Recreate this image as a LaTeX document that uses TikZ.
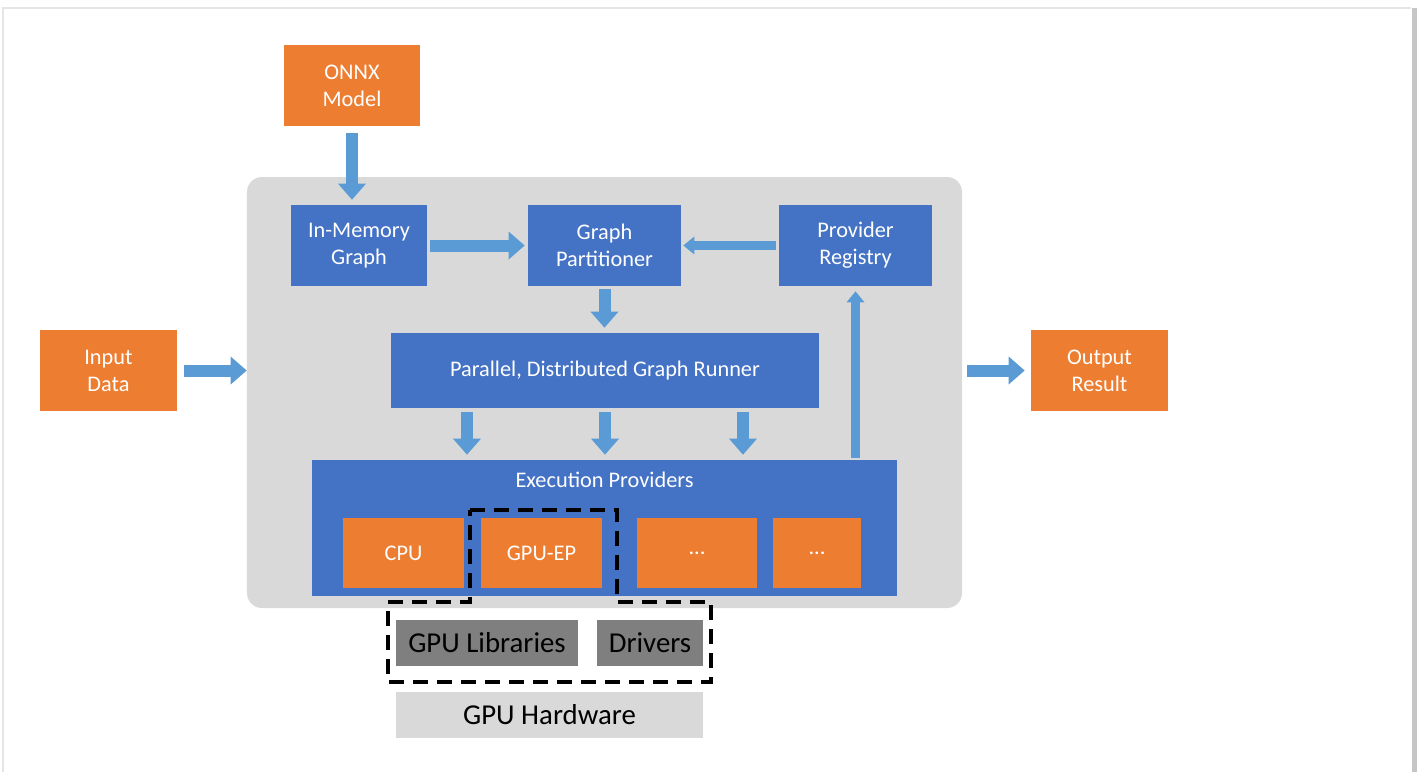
\documentclass[tikz,border=0pt]{standalone}
\usepackage{fontspec}
\setmainfont{Carlito}
\usepackage{tikz}
\usetikzlibrary{positioning}
\usetikzlibrary{calc}
\usetikzlibrary{arrows.meta}
\definecolor{ortorange}{HTML}{ED7D31}
\definecolor{ortblue}{HTML}{4472C4}
\definecolor{ortarrow}{HTML}{5B9BD5}
\definecolor{ortgray}{HTML}{D9D9D9}
\definecolor{ortdark}{HTML}{7F7F7F}
\tikzset{ortbox/.style={inner sep=0pt,align=center,text=white,font=\fontsize{12.7}{15.3}\selectfont},
orangebox/.style={ortbox,fill=ortorange},
bluebox/.style={ortbox,fill=ortblue},
graybox/.style={ortbox,text=black,font=\fontsize{16.4}{19}\selectfont,minimum height=9.2mm},
bigarrow/.style={ortarrow,line width=2.4mm,-{Triangle[length=3.2mm,width=5.6mm,line width=0pt]}},
thinarrow/.style={ortarrow,line width=1.7mm,-{Triangle[length=2.2mm,width=3.6mm,line width=0pt]}}}

\begin{document}
\begin{tikzpicture}[x=0.2mm,y=-0.2mm]
\useasboundingbox (0,0) rectangle (1419,771);
\draw[gray!20,line width=0.3mm] (3,775) -- (3,8) -- (1411,8);
\draw[gray!45,line width=1mm] (1414,8) -- (1414,775);
\node[fill=ortgray,rounded corners=3mm,minimum width=143mm,minimum height=86.2mm] (runtime) at (604.5,392.5) {};
\node[orangebox,minimum width=27.2mm,minimum height=16.2mm] (onnx) at (352,85.5) {ONNX\\Model};
\node[bluebox,minimum width=27.2mm,minimum height=16.2mm] (mem) at (359,245.5) {In-Memory\\Graph};
\node[bluebox,minimum width=30.6mm,minimum height=16.2mm] (part) at (604.5,245.5) {Graph\\Partitioner};
\node[bluebox,minimum width=30.6mm,minimum height=16.2mm] (reg) at (855.5,245.5) {Provider\\Registry};
\node[bluebox,minimum width=85.6mm,minimum height=15mm] (runner) at (605,370.5) {Parallel, Distributed Graph Runner};
\node[bluebox,minimum width=117mm,minimum height=27.2mm,label={[ortbox,anchor=center,yshift=-4mm]north:Execution Providers}] (ep) at (604.5,528) {};
\node[orangebox,minimum width=24.2mm,minimum height=14mm] (cpu) at (403.5,553) {CPU};
\node[orangebox,minimum width=24.2mm,minimum height=14mm] (gpuep) at (541.5,553) {GPU-EP};
\node[orangebox,minimum width=24mm,minimum height=14mm] (more) at (697,553) {...};
\node[orangebox,minimum width=17.6mm,minimum height=14mm] (other) at (817,553) {...};
\node[orangebox,minimum width=27.4mm,minimum height=16.2mm] (input) at (108.5,370.5) {Input\\Data};
\node[orangebox,minimum width=27.4mm,minimum height=16.2mm] (output) at (1099.5,370.5) {Output\\Result};
\node[graybox,fill=ortdark,minimum width=36.4mm] (gpulib) at (487,643) {GPU Libraries};
\node[graybox,fill=ortdark,minimum width=21.2mm] (drivers) at (650,643) {Drivers};
\node[graybox,fill=ortgray,minimum width=61.4mm] (hw) at (549.5,715) {GPU Hardware};
\draw[bigarrow,shorten <=1.4mm,shorten >=1mm] (onnx.south) -- (onnx.south |- mem.north);
\draw[bigarrow,shorten <=0.6mm,shorten >=0.6mm] (mem.east) -- (part.west);
\draw[thinarrow,shorten <=0.6mm,shorten >=0.4mm] (reg.west) -- (part.east);
\draw[bigarrow,shorten <=0.6mm,shorten >=1mm] (part.south) -- (part.south |- runner.north);
\foreach \dx in {-138,0,138}
  \draw[bigarrow,shorten <=0.8mm,shorten >=1mm] ($(runner.south)+(\dx,0)$) -- ($(runner.south |- ep.north)+(\dx,0)$);
\draw[thinarrow,shorten <=0.4mm,shorten >=1mm] (ep.north -| reg.south) -- (reg.south);
\draw[bigarrow,shorten <=1.4mm] (input.east) -- (input.east -| runtime.west);
\draw[bigarrow,shorten <=1mm,shorten >=1.2mm] (runtime.east |- output.west) -- (output.west);
\draw[black,line width=0.8mm,dash pattern=on 3mm off 1.8mm] (470,510) -- (617,510) -- (617,602) -- (711,602) -- (711,682) -- (388,682) -- (388,602) -- (470,602) -- cycle;
\end{tikzpicture}
\end{document}
